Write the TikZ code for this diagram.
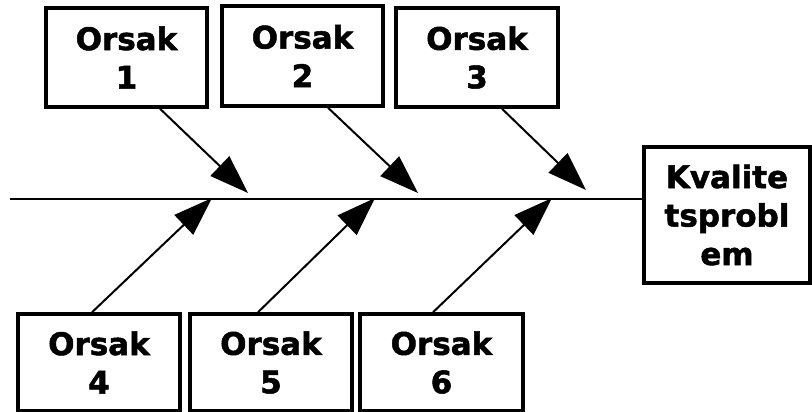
\documentclass[tikz,border=0pt]{standalone}
\usepackage{fontspec}
\setmainfont{DejaVu Sans}
\newfontfamily\heavyfont{DejaVu Sans Bold}[FakeBold=1.6]
\usetikzlibrary{arrows.meta}
\begin{document}
\begin{tikzpicture}[x=1pt,y=-1pt,
  box/.style={draw=black,line width=3.5pt,inner sep=0pt,align=center,
    font=\fontsize{31}{38.5}\selectfont\heavyfont},
  arr/.style={line width=2pt,-{Triangle[length=39pt,width=27pt]}},
  spine/.style={line width=2pt}]
\useasboundingbox[fill=white] (0,0) rectangle (812,412);
\node[box,minimum width=161pt,minimum height=99pt] (b1) at (126.5,57.5) {Orsak\\1};
\node[box,minimum width=161pt,minimum height=100pt] (b2) at (302.5,56) {Orsak\\2};
\node[box,minimum width=162pt,minimum height=99pt] (b3) at (477,57.5) {Orsak\\3};
\node[box,minimum width=162pt,minimum height=97pt] (b4) at (99,362.5) {Orsak\\4};
\node[box,minimum width=162pt,minimum height=97pt] (b5) at (271,362.5) {Orsak\\5};
\node[box,minimum width=163pt,minimum height=97pt] (b6) at (441.5,362.5) {Orsak\\6};
\node[box,minimum width=166pt,minimum height=136pt] (k) at (727,215) {Kvalite\\tsprobl\\em};
\coordinate (tail) at (10,199);
\draw[spine] (tail) -- (tail -| k.west);
\coordinate (e1) at (248,193);
\coordinate (e2) at (418,193);
\coordinate (e3) at (586,190);
\coordinate (e4) at (212,198);
\coordinate (e5) at (375,198);
\coordinate (e6) at (552,198);
\draw[arr] ([xshift=33.5pt]b1.south) -- (e1);
\draw[arr] ([xshift=25.5pt]b2.south) -- (e2);
\draw[arr] ([xshift=25pt]b3.south) -- (e3);
\draw[arr] ([xshift=-7pt]b4.north) -- (e4);
\draw[arr] ([xshift=-13pt]b5.north) -- (e5);
\draw[arr] ([xshift=-8.5pt]b6.north) -- (e6);
\end{tikzpicture}
\end{document}
